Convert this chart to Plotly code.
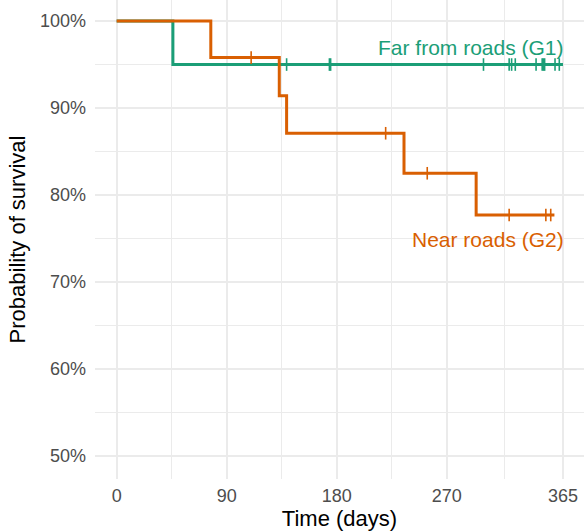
import plotly.graph_objects as go

# ---- data ----
g1_name = "Far from roads (G1)"
g1_times = [0, 46, 365]
g1_surv = [1.0, 0.95, 0.95]
g1_censor_t = [139, 174, 175, 300, 321, 323, 326, 343, 348, 349, 350, 358.5, 362]
g1_censor_s = [0.95] * len(g1_censor_t)

g2_name = "Near roads (G2)"
g2_times = [0, 77, 133, 139, 235, 294, 358]
g2_surv = [1.0, 0.958, 0.914, 0.871, 0.825, 0.777, 0.777]
g2_censor_t = [110, 220, 254, 321, 351, 355]
g2_censor_s = [0.958, 0.871, 0.825, 0.777, 0.777, 0.777]

x_ticks = [0, 90, 180, 270, 365]
x_minor = [45, 135, 225, 317.5]
y_ticks = [0.5, 0.6, 0.7, 0.8, 0.9, 1.0]
y_ticklabels = ["50%", "60%", "70%", "80%", "90%", "100%"]
y_minor = [0.55, 0.65, 0.75, 0.85, 0.95]

green = "#1b9e77"
orange = "#d95f02"
font = "Liberation Sans, Arial, sans-serif"

fig = go.Figure()
for t, s, ct, cs, col in [
    (g1_times, g1_surv, g1_censor_t, g1_censor_s, green),
    (g2_times, g2_surv, g2_censor_t, g2_censor_s, orange),
]:
    fig.add_trace(go.Scatter(x=t, y=s, mode="lines", line=dict(color=col, width=3, shape="hv"),
                             showlegend=False, hoverinfo="skip", cliponaxis=False))
    fig.add_trace(go.Scatter(x=ct, y=cs, mode="markers",
                             marker=dict(symbol="line-ns", size=9, line=dict(color=col, width=1.6)),
                             showlegend=False, hoverinfo="skip", cliponaxis=False))

fig.add_annotation(x=367.5, y=0.9693, text=g1_name, xanchor="right", yanchor="middle",
                   showarrow=False, font=dict(family=font, size=21, color=green))
fig.add_annotation(x=367.5, y=0.749, text=g2_name, xanchor="right", yanchor="middle",
                   showarrow=False, font=dict(family=font, size=21, color=orange))

grid = "#ebebeb"
fig.update_layout(
    width=584, height=532,
    margin=dict(l=95, r=0, t=0, b=53),
    paper_bgcolor="white", plot_bgcolor="white",
    font=dict(family=font),
    xaxis=dict(range=[-17.7, 382.2], tickmode="array", tickvals=x_ticks,
               ticktext=[str(v) for v in x_ticks], automargin=False,
               showgrid=True, gridcolor=grid, gridwidth=1.5, zeroline=False, showline=False,
               ticks="", ticklabelstandoff=4,
               tickfont=dict(family=font, size=18, color="#4d4d4d"),
               minor=dict(tickmode="array", tickvals=x_minor, showgrid=True, gridcolor=grid, gridwidth=1),
               title=dict(text="Time (days)", font=dict(family=font, size=22, color="black"), standoff=0)),
    yaxis=dict(range=[0.4735, 1.0242], tickmode="array", tickvals=y_ticks, ticktext=y_ticklabels,
               automargin=False,
               showgrid=True, gridcolor=grid, gridwidth=1.5, zeroline=False, showline=False,
               ticks="", ticklabelstandoff=8,
               tickfont=dict(family=font, size=18, color="#4d4d4d"),
               minor=dict(tickmode="array", tickvals=y_minor, showgrid=True, gridcolor=grid, gridwidth=1),
               title=dict(text="Probability of survival", font=dict(family=font, size=22, color="black"), standoff=8)),
)

fig.write_html("out.html", config={"displayModeBar": False},
               post_script="document.body.style.margin='0';document.body.style.overflow='hidden';")
